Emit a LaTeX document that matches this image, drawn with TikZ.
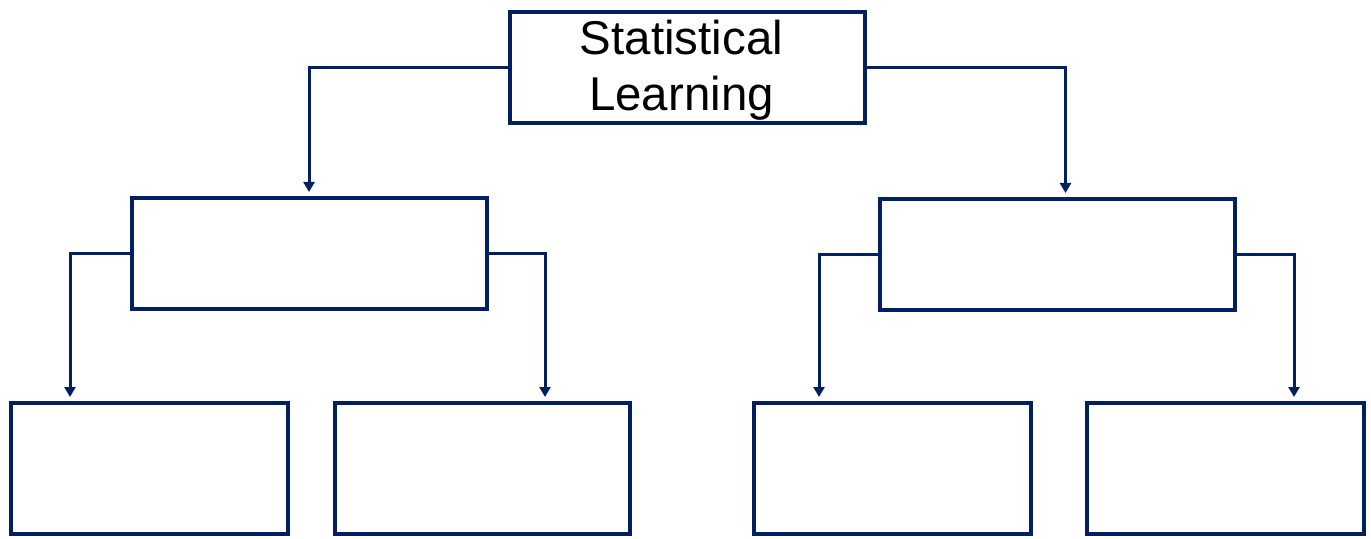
\documentclass[tikz,border=0pt]{standalone}
\usepackage{fontspec}
\setmainfont{Liberation Sans}
\usetikzlibrary{arrows.meta}

\definecolor{navy}{HTML}{002060}

\tikzset{
  bigbox/.style={draw=navy, line width=0.08cm, minimum width=7.1cm, minimum height=2.22cm, inner sep=0pt},
  leafbox/.style={draw=navy, line width=0.08cm, minimum width=5.54cm, minimum height=2.62cm, inner sep=0pt},
  link/.style={draw=navy, line width=0.06cm, -{Triangle[width=0.22cm,length=0.2cm]}, shorten >=0.08cm}
}

\begin{document}
\begin{tikzpicture}
    \useasboundingbox (0,0) rectangle (27.42,10.76);
    \node[bigbox] (top) at (13.75,9.41) {};
    \node[align=center, font=\fontsize{27}{32}\selectfont, inner sep=0pt] (toptext) at ([xshift=-0.12cm,yshift=-0.05cm]top.center) {Statistical\\Learning};
    \node[bigbox] (midL) at (6.18,5.69) {};
    \node[bigbox] (midR) at (21.15,5.67) {};
    \node[leafbox] (b1) at (2.99,1.39) {};
    \node[leafbox, minimum width=5.9cm] (b2) at (9.65,1.39) {};
    \node[leafbox] (b3) at (17.85,1.39) {};
    \node[leafbox] (b4) at (24.51,1.39) {};
    \draw[link] (top.west) -| (midL.north);
    \draw[link] (top.east) -| ([xshift=0.16cm]midR.north);
    \draw[link] (midL.west) -| ([xshift=1.22cm]b1.north west);
    \draw[link] (midL.east) -| ([xshift=-1.74cm]b2.north east);
    \draw[link] (midR.west) -| ([xshift=1.34cm]b3.north west);
    \draw[link] (midR.east) -| ([xshift=-1.44cm]b4.north east);
\end{tikzpicture}
\end{document}
